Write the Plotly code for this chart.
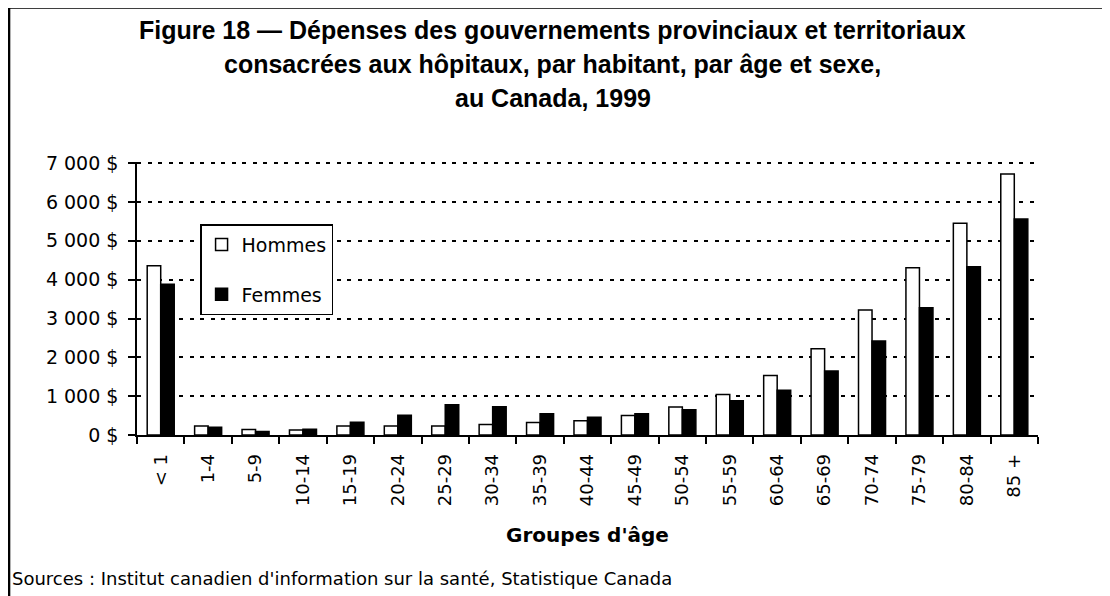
import plotly.graph_objects as go

age_groups = ["< 1", "1-4", "5-9", "10-14", "15-19", "20-24", "25-29", "30-34", "35-39",
              "40-44", "45-49", "50-54", "55-59", "60-64", "65-69", "70-74", "75-79",
              "80-84", "85 +"]
hommes = [4360, 230, 140, 130, 230, 230, 230, 270, 320, 370, 500, 720, 1040, 1530,
          2220, 3220, 4310, 5450, 6720]
femmes = [3880, 200, 90, 145, 330, 510, 780, 730, 550, 460, 550, 650, 880, 1150,
          1650, 2420, 3280, 4330, 5560]
y_ticks = [0, 1000, 2000, 3000, 4000, 5000, 6000, 7000]
y_labels = ["0 $", "1 000 $", "2 000 $", "3 000 $", "4 000 $", "5 000 $", "6 000 $", "7 000 $"]

title_lines = ["Figure 18 \u2014 Dépenses des gouvernements provinciaux et territoriaux",
               "consacrées aux hôpitaux, par habitant, par âge et sexe,",
               "au Canada, 1999"]
source = "Sources : Institut canadien d'information sur la santé, Statistique Canada"

fig = go.Figure()
fig.add_trace(go.Bar(x=age_groups, y=hommes, name="Hommes", legendgroup="h",
                     marker=dict(color="white", line=dict(color="black", width=1.5))))
fig.add_trace(go.Bar(x=age_groups, y=femmes, name="Femmes", legendgroup="f",
                     marker=dict(color="black", line=dict(color="black", width=1.5))))

# la page ajoute 8px de marge autour du graphique
fig.update_layout(
    width=1102, height=588,
    margin=dict(l=129, r=72, t=154, b=161),
    paper_bgcolor="white", plot_bgcolor="white",
    font=dict(family="DejaVu Sans", size=18, color="black"),
    barmode="group", bargap=0.43, bargroupgap=0,
    showlegend=True,
    legend=dict(x=0.07, y=0.772, xanchor="left", yanchor="top",
                bgcolor="white", bordercolor="black", borderwidth=1.5,
                font=dict(size=19), tracegroupgap=22, traceorder="grouped"),
)

fig.update_xaxes(
    showline=True, linecolor="black", linewidth=1.5,
    ticks="outside", ticklen=7, tickcolor="black", tickwidth=1.5,
    tickson="boundaries", tickangle=-90, showgrid=False, ticklabelstandoff=10,
    title=dict(text="<b>Groupes d'âge</b>", font=dict(size=20), standoff=23),
)
fig.update_yaxes(
    range=[0, 7030], tickvals=y_ticks, ticktext=y_labels, tickfont=dict(size=19),
    showline=True, linecolor="black", linewidth=1.5,
    ticks="outside", ticklen=7, tickcolor="black", tickwidth=1.5,
    showgrid=True, gridcolor="black", gridwidth=2, griddash="4px,6.5px",
    zeroline=False, ticklabelstandoff=6,
)

ys = [1.485, 1.36, 1.235]
for line, yy in zip(title_lines, ys):
    fig.add_annotation(text="<b>" + line + "</b>", xref="paper", yref="paper",
                       x=0.4617, y=yy, showarrow=False, xanchor="center", yanchor="middle",
                       font=dict(family="Liberation Sans", size=25, color="black"))

fig.add_annotation(text=source, xref="paper", yref="paper", x=-0.141, y=-0.525,
                   showarrow=False, xanchor="left", yanchor="middle",
                   font=dict(size=18, color="black"))

# cadre autour de la figure
fig.add_shape(type="rect", xref="paper", yref="paper", x0=-0.1420, y0=-0.7,
              x1=1.2, y1=1.566, line=dict(color="black", width=2.5), layer="below")

fig.write_html("out.html")
